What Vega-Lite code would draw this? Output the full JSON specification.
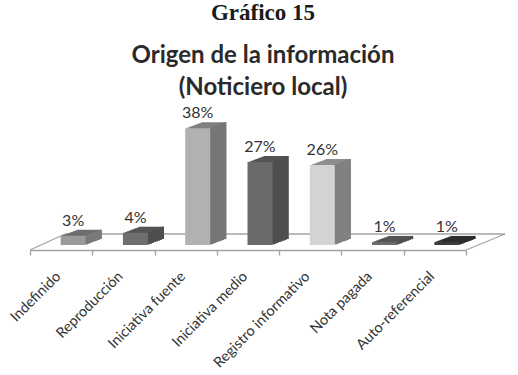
{"$schema":"https://vega.github.io/schema/vega-lite/v6.json","width":436,"height":123,"autosize":"none","padding":{"left":30,"right":52,"top":122,"bottom":130},"background":"white",
"title":{"text":"Gráfico 15","subtitle":["Origen de la información","(Noticiero local)"],"anchor":"middle","dx":15,"offset":5,"font":"Liberation Serif","fontSize":23,"fontWeight":"bold","color":"#1a1a1a","subtitleFont":"Lato","subtitleFontSize":24,"subtitleFontWeight":"bold","subtitleColor":"#2a2a2a","subtitleLineHeight":32,"subtitlePadding":19},
"config":{"view":{"stroke":null}},
"data":{"values":[{"categoria":"Indefinido","pct":3},{"categoria":"Reproducción","pct":4},{"categoria":"Iniciativa fuente","pct":38},{"categoria":"Iniciativa medio","pct":27},{"categoria":"Registro informativo","pct":26},{"categoria":"Nota pagada","pct":1},{"categoria":"Auto-referencial","pct":1}]},
"datasets":{"piso":[{"desde":0,"hasta":1,"base":0}]},
"encoding":{"x":{"field":"categoria","type":"nominal","sort":null,"axis":null,"scale":{"paddingInner":0,"paddingOuter":0}},"y":{"field":"pct","type":"quantitative","axis":null,"scale":{"domain":[0,40]}},"y2":{"datum":0}},
"layer":[
{"data":{"name":"piso"},"mark":{"type":"rule","color":"#a3a3a3","strokeWidth":1.3,"x2Offset":35,"yOffset":5,"y2Offset":-11},"encoding":{"x":{"field":"desde","type":"quantitative","scale":{"domain":[0,1]},"axis":null},"x2":{"field":"desde"},"y":{"field":"base","type":"quantitative"},"y2":{"field":"base"}}},
{"data":{"name":"piso"},"mark":{"type":"rule","color":"#a3a3a3","strokeWidth":1.3,"xOffset":35,"x2Offset":39,"yOffset":-11,"y2Offset":-11},"encoding":{"x":{"field":"desde","type":"quantitative","scale":{"domain":[0,1]},"axis":null},"x2":{"field":"hasta"},"y":{"field":"base","type":"quantitative"},"y2":{"field":"base"}}},
{"data":{"name":"piso"},"mark":{"type":"rule","color":"#a3a3a3","strokeWidth":1.3,"x2Offset":39,"yOffset":5,"y2Offset":-11},"encoding":{"x":{"field":"hasta","type":"quantitative","scale":{"domain":[0,1]},"axis":null},"x2":{"field":"hasta"},"y":{"field":"base","type":"quantitative"},"y2":{"field":"base"}}},
{"mark":{"type":"bar","width":25,"xOffset":28,"yOffset":-6,"y2Offset":-6},"encoding":{"color":{"field":"categoria","type":"nominal","sort":null,"legend":null,"scale":{"range":["#6e6e6e","#555555","#808080","#555555","#8e8e8e","#555555","#2e2e2e"]}}}},
{"mark":{"type":"bar","width":25,"xOffset":26,"yOffset":-5.25,"y2Offset":-5.25},"encoding":{"color":{"field":"categoria","type":"nominal","sort":null,"legend":null,"scale":{"range":["#6e6e6e","#555555","#808080","#555555","#8e8e8e","#555555","#2e2e2e"]}}}},
{"mark":{"type":"bar","width":25,"xOffset":24,"yOffset":-4.5,"y2Offset":-4.5},"encoding":{"color":{"field":"categoria","type":"nominal","sort":null,"legend":null,"scale":{"range":["#6e6e6e","#555555","#808080","#555555","#8e8e8e","#555555","#2e2e2e"]}}}},
{"mark":{"type":"bar","width":25,"xOffset":22,"yOffset":-3.75,"y2Offset":-3.75},"encoding":{"color":{"field":"categoria","type":"nominal","sort":null,"legend":null,"scale":{"range":["#6e6e6e","#555555","#808080","#555555","#8e8e8e","#555555","#2e2e2e"]}}}},
{"mark":{"type":"bar","width":25,"xOffset":20,"yOffset":-3,"y2Offset":-3},"encoding":{"color":{"field":"categoria","type":"nominal","sort":null,"legend":null,"scale":{"range":["#6e6e6e","#555555","#808080","#555555","#8e8e8e","#555555","#2e2e2e"]}}}},
{"mark":{"type":"bar","width":25,"xOffset":18,"yOffset":-2.25,"y2Offset":-2.25},"encoding":{"color":{"field":"categoria","type":"nominal","sort":null,"legend":null,"scale":{"range":["#6e6e6e","#555555","#808080","#555555","#8e8e8e","#555555","#2e2e2e"]}}}},
{"mark":{"type":"bar","width":25,"xOffset":16,"yOffset":-1.5,"y2Offset":-1.5},"encoding":{"color":{"field":"categoria","type":"nominal","sort":null,"legend":null,"scale":{"range":["#6e6e6e","#555555","#808080","#555555","#8e8e8e","#555555","#2e2e2e"]}}}},
{"mark":{"type":"bar","width":25,"xOffset":14,"yOffset":-0.75,"y2Offset":-0.75},"encoding":{"color":{"field":"categoria","type":"nominal","sort":null,"legend":null,"scale":{"range":["#6e6e6e","#555555","#808080","#555555","#8e8e8e","#555555","#2e2e2e"]}}}},
{"mark":{"type":"bar","width":2.2,"xOffset":25.5,"yOffset":-0.75,"y2Offset":-0.75},"encoding":{"color":{"field":"categoria","type":"nominal","sort":null,"legend":null,"scale":{"range":["#7a7a7a","#4f4f4f","#757575","#4d4d4d","#808080","#4f4f4f","#2a2a2a"]}}}},
{"mark":{"type":"bar","width":2.2,"xOffset":27.5,"yOffset":-1.5,"y2Offset":-1.5},"encoding":{"color":{"field":"categoria","type":"nominal","sort":null,"legend":null,"scale":{"range":["#7a7a7a","#4f4f4f","#757575","#4d4d4d","#808080","#4f4f4f","#2a2a2a"]}}}},
{"mark":{"type":"bar","width":2.2,"xOffset":29.5,"yOffset":-2.25,"y2Offset":-2.25},"encoding":{"color":{"field":"categoria","type":"nominal","sort":null,"legend":null,"scale":{"range":["#7a7a7a","#4f4f4f","#757575","#4d4d4d","#808080","#4f4f4f","#2a2a2a"]}}}},
{"mark":{"type":"bar","width":2.2,"xOffset":31.5,"yOffset":-3,"y2Offset":-3},"encoding":{"color":{"field":"categoria","type":"nominal","sort":null,"legend":null,"scale":{"range":["#7a7a7a","#4f4f4f","#757575","#4d4d4d","#808080","#4f4f4f","#2a2a2a"]}}}},
{"mark":{"type":"bar","width":2.2,"xOffset":33.5,"yOffset":-3.75,"y2Offset":-3.75},"encoding":{"color":{"field":"categoria","type":"nominal","sort":null,"legend":null,"scale":{"range":["#7a7a7a","#4f4f4f","#757575","#4d4d4d","#808080","#4f4f4f","#2a2a2a"]}}}},
{"mark":{"type":"bar","width":2.2,"xOffset":35.5,"yOffset":-4.5,"y2Offset":-4.5},"encoding":{"color":{"field":"categoria","type":"nominal","sort":null,"legend":null,"scale":{"range":["#7a7a7a","#4f4f4f","#757575","#4d4d4d","#808080","#4f4f4f","#2a2a2a"]}}}},
{"mark":{"type":"bar","width":2.2,"xOffset":37.5,"yOffset":-5.25,"y2Offset":-5.25},"encoding":{"color":{"field":"categoria","type":"nominal","sort":null,"legend":null,"scale":{"range":["#7a7a7a","#4f4f4f","#757575","#4d4d4d","#808080","#4f4f4f","#2a2a2a"]}}}},
{"mark":{"type":"bar","width":2.2,"xOffset":39.5,"yOffset":-6,"y2Offset":-6},"encoding":{"color":{"field":"categoria","type":"nominal","sort":null,"legend":null,"scale":{"range":["#7a7a7a","#4f4f4f","#757575","#4d4d4d","#808080","#4f4f4f","#2a2a2a"]}}}},
{"mark":{"type":"bar","width":25,"xOffset":12},"encoding":{"x":{"field":"categoria","type":"nominal","sort":null,"title":null,"scale":{"paddingInner":0,"paddingOuter":0},"axis":{"orient":"bottom","offset":5,"labelAngle":-45,"labelFont":"Lato","labelFontSize":14.5,"labelColor":"#333333","labelPadding":19,"labelOffset":-3,"labelAlign":"right","labelBaseline":"middle","tickBand":"extent","tickColor":"#a3a3a3","tickSize":5,"tickWidth":1.3,"domainColor":"#a3a3a3","domainWidth":1.5,"labelLimit":200,"grid":false}},"color":{"field":"categoria","type":"nominal","sort":null,"legend":null,"scale":{"range":["#9a9a9a","#6e6e6e","#b0b1b3","#6a6a6a","#d2d3d5","#6a6a6a","#3c3c3c"]}}}},
{"mark":{"type":"text","font":"Lato","fontSize":16,"color":"#333333","xOffset":12,"yOffset":-10,"baseline":"alphabetic","align":"center"},"encoding":{"y2":null,"text":{"field":"etiqueta"}},"transform":[{"calculate":"datum.pct + '%'","as":"etiqueta"}]}
],
"resolve":{"scale":{"color":"independent","x":"independent"}}}
